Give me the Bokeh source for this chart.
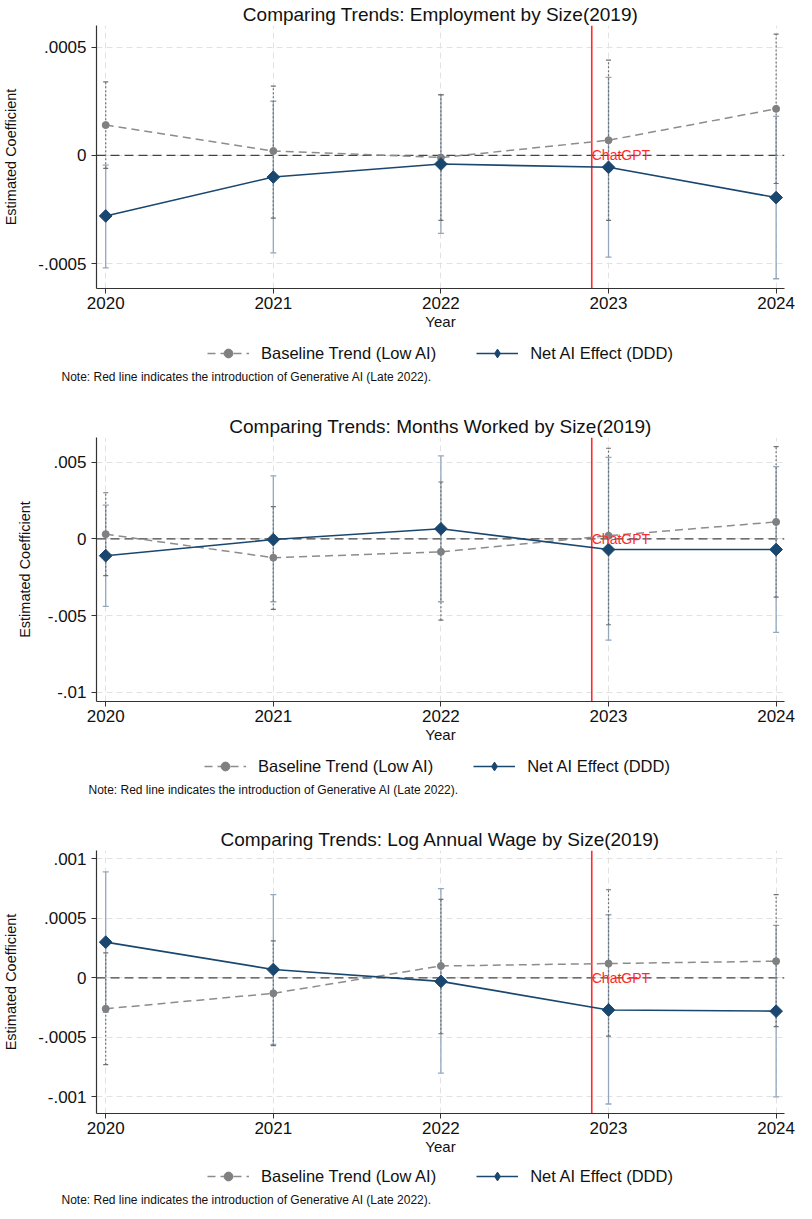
from bokeh.plotting import figure
from bokeh.models import FixedTicker, Span, Label, Legend, LegendItem, Range1d
from bokeh.layouts import column
from bokeh.embed import file_html
from bokeh.resources import INLINE

# ---------------- data ----------------
years = [2020, 2021, 2022, 2023, 2024]
chatgpt_x = 2022.9

emp_title = "Comparing Trends: Employment by Size(2019)"
emp_base = [0.00014, 0.00002, -0.00001, 0.00007, 0.000215]
emp_base_lo = [-0.00006, -0.00029, -0.00030, -0.00030, -0.00013]
emp_base_hi = [0.00034, 0.00032, 0.00028, 0.00044, 0.00056]
emp_net = [-0.00028, -0.00010, -0.00004, -0.000055, -0.000195]
emp_net_lo = [-0.00052, -0.00045, -0.00036, -0.00047, -0.00057]
emp_net_hi = [-0.000045, 0.00025, 0.00028, 0.00036, 0.00018]
emp_yticks = [-0.0005, 0, 0.0005]
emp_ylabels = ["-.0005", "0", ".0005"]

mon_title = "Comparing Trends: Months Worked by Size(2019)"
mon_base = [0.0003, -0.00123, -0.00085, 0.0002, 0.0011]
mon_base_lo = [-0.0024, -0.0046, -0.0053, -0.0056, -0.0038]
mon_base_hi = [0.0030, 0.0021, 0.0037, 0.0059, 0.0060]
mon_net = [-0.0011, -0.00005, 0.00065, -0.0007, -0.0007]
mon_net_lo = [-0.0044, -0.0041, -0.0041, -0.0066, -0.0061]
mon_net_hi = [0.0022, 0.0041, 0.0054, 0.0053, 0.0047]
mon_yticks = [-0.01, -0.005, 0, 0.005]
mon_ylabels = ["-.01", "-.005", "0", ".005"]

wage_title = "Comparing Trends: Log Annual Wage by Size(2019)"
wage_base = [-0.00026, -0.00013, 0.0001, 0.00012, 0.00014]
wage_base_lo = [-0.00073, -0.00057, -0.00047, -0.00049, -0.00041]
wage_base_hi = [0.00021, 0.00031, 0.00066, 0.00074, 0.00070]
wage_net = [0.0003, 0.00007, -0.00003, -0.00027, -0.00028]
wage_net_lo = [-0.00029, -0.00056, -0.00080, -0.00106, -0.00100]
wage_net_hi = [0.00089, 0.00070, 0.00075, 0.00053, 0.00044]
wage_yticks = [-0.001, -0.0005, 0, 0.0005, 0.001]
wage_ylabels = ["-.001", "-.0005", "0", ".0005", ".001"]

base_label = "Baseline Trend (Low AI)"
net_label = "Net AI Effect (DDD)"
note_text = "Note: Red line indicates the introduction of Generative AI (Late 2022)."
xlabel = "Year"
ylabel = "Estimated Coefficient"
marker_text = "ChatGPT"

FONT = "Liberation Sans"
GRAY = "#808080"
GRAY_LINE = "#8c8c8c"
NAVY = "#1a476f"
CI_BLUE = "#93a7bd"
CI_GRAY = "#6f6f6f"
RED = "#ff2a2a"
XR = (2019.945, 2024.05)


def style_series(p, xs, base, net, legend_keys=False):
    gl = p.line(xs, base, line_color=GRAY_LINE, line_width=1.5, line_dash="8 5")
    gm = p.scatter(xs, base, marker="circle", size=7, fill_color=GRAY, line_color=GRAY)
    nl = p.line(xs, net, line_color=NAVY, line_width=1.6)
    if legend_keys:
        nm = p.scatter(xs, net, marker="diamond", size=13, fill_color=NAVY, line_color=NAVY)
    else:
        nm = p.scatter(xs, net, marker="square", angle=0.785398, size=9,
                       fill_color=NAVY, line_color=NAVY)
    return gl, gm, nl, nm


def make_panel(title, base, base_lo, base_hi, net, net_lo, net_hi, yticks, ylabels,
               yr, height, top, left, ylab_standoff):
    p = figure(width=796, height=height, output_backend="svg", toolbar_location=None,
               x_range=Range1d(*XR), y_range=Range1d(*yr),
               min_border_top=top, min_border_bottom=48, min_border_left=left,
               min_border_right=12)
    p.outline_line_color = None

    p.title.text = title
    p.title.align = "center"
    p.title.text_font = FONT
    p.title.text_font_size = "19px"
    p.title.text_font_style = "normal"
    p.title.text_color = "#111111"
    p.title.standoff = 2

    p.xaxis.ticker = FixedTicker(ticks=years)
    p.yaxis.ticker = FixedTicker(ticks=yticks)
    p.yaxis.major_label_overrides = {t: l for t, l in zip(yticks, ylabels)}
    for ax in (p.xaxis[0], p.yaxis[0]):
        ax.axis_line_color = "#333333"
        ax.axis_line_width = 1.2
        ax.major_tick_line_color = "#333333"
        ax.major_tick_out = 5
        ax.major_tick_in = 0
        ax.minor_tick_out = 0
        ax.minor_tick_in = 0
        ax.major_label_text_font = FONT
        ax.major_label_text_font_size = "17px"
        ax.major_label_text_color = "#111111"
        ax.axis_label_text_font = FONT
        ax.axis_label_text_font_style = "normal"
        ax.axis_label_text_color = "#111111"
    p.xaxis.axis_label = xlabel
    p.xaxis.axis_label_text_font_size = "15px"
    p.xaxis.major_label_standoff = 3
    p.xaxis.axis_label_standoff = 1
    p.yaxis.axis_label = ylabel
    p.yaxis.axis_label_text_font_size = "14.5px"
    p.yaxis.major_label_standoff = 5
    p.yaxis.axis_label_standoff = ylab_standoff

    for g in (p.xgrid[0], p.ygrid[0]):
        g.grid_line_color = "#e2e2e2"
        g.grid_line_dash = "6 4"
        g.grid_line_width = 1

    p.add_layout(Span(location=0, dimension="width", line_color="#444444",
                      line_dash="9 5", line_width=1.2, level="underlay"))
    p.add_layout(Span(location=chatgpt_x, dimension="height", line_color=RED,
                      line_width=1.6, level="underlay"))
    p.add_layout(Label(x=chatgpt_x, y=0, text=marker_text, text_color=RED,
                       text_font=FONT, text_font_size="14px", text_baseline="middle",
                       text_align="left", x_offset=0))

    p.segment(x0=years, y0=net_lo, x1=years, y1=net_hi, line_color=CI_BLUE, line_width=1.3)
    p.scatter(x=years + years, y=net_lo + net_hi, marker="dash", size=6,
              line_color=CI_BLUE, line_width=1.3)
    p.segment(x0=years, y0=base_lo, x1=years, y1=base_hi, line_color=CI_GRAY,
              line_width=1.2, line_dash="2 2")
    p.scatter(x=years + years, y=base_lo + base_hi, marker="dash", size=5,
              line_color=CI_GRAY, line_width=1.2)

    style_series(p, years, base, net)
    return p


def make_footer(height, bottom, note_offset, legend_x):
    f = figure(width=796, height=height, output_backend="svg", toolbar_location=None,
               x_range=Range1d(0, 100), y_range=Range1d(0, 100),
               x_axis_type=None, y_axis_type=None,
               min_border_top=0, min_border_bottom=bottom, min_border_left=89,
               min_border_right=12, title_location="below")
    f.outline_line_color = None
    f.grid.visible = False
    f.title.text = note_text
    f.title.align = "left"
    f.title.offset = note_offset
    f.title.standoff = 6
    f.title.text_font = FONT
    f.title.text_font_size = "12px"
    f.title.text_font_style = "normal"
    f.title.text_color = "#111111"

    # legend keys (drawn out of view; only their styles are used by the legend)
    gl, gm, nl, nm = style_series(f, [-1000, -999], [-1000, -999], [-1000, -999],
                                  legend_keys=True)
    legend = Legend(items=[LegendItem(label=base_label, renderers=[gl, gm]),
                           LegendItem(label=net_label, renderers=[nl, nm])],
                    orientation="horizontal", location=(legend_x, 0))
    legend.label_text_font = FONT
    legend.label_text_font_size = "16.5px"
    legend.label_text_color = "#111111"
    legend.glyph_width = 42
    legend.glyph_height = 22
    legend.label_height = 22
    legend.label_standoff = 12
    legend.spacing = 40
    legend.margin = 0
    legend.padding = 0
    legend.border_line_alpha = 0
    legend.background_fill_alpha = 0
    f.add_layout(legend, "center")
    return f


p1 = make_panel(emp_title, emp_base, emp_base_lo, emp_base_hi, emp_net, emp_net_lo,
                emp_net_hi, emp_yticks, emp_ylabels, (-0.000615, 0.0006),
                336, 23, 89, 16)
f1 = make_footer(50, 22, -35, 111)
p2 = make_panel(mon_title, mon_base, mon_base_lo, mon_base_hi, mon_net, mon_net_lo,
                mon_net_hi, mon_yticks, mon_ylabels, (-0.0106, 0.0066),
                363, 51, 79, 12)
f2 = make_footer(50, 22, -8, 108)
p3 = make_panel(wage_title, wage_base, wage_base_lo, wage_base_hi, wage_net, wage_net_lo,
                wage_net_hi, wage_yticks, wage_ylabels, (-0.00114, 0.00107),
                362, 51, 89, 16)
f3 = make_footer(48, 20, -35, 111)

layout = column(p1, f1, p2, f2, p3, f3, spacing=0)
open("out.html", "w").write(file_html(layout, INLINE))
